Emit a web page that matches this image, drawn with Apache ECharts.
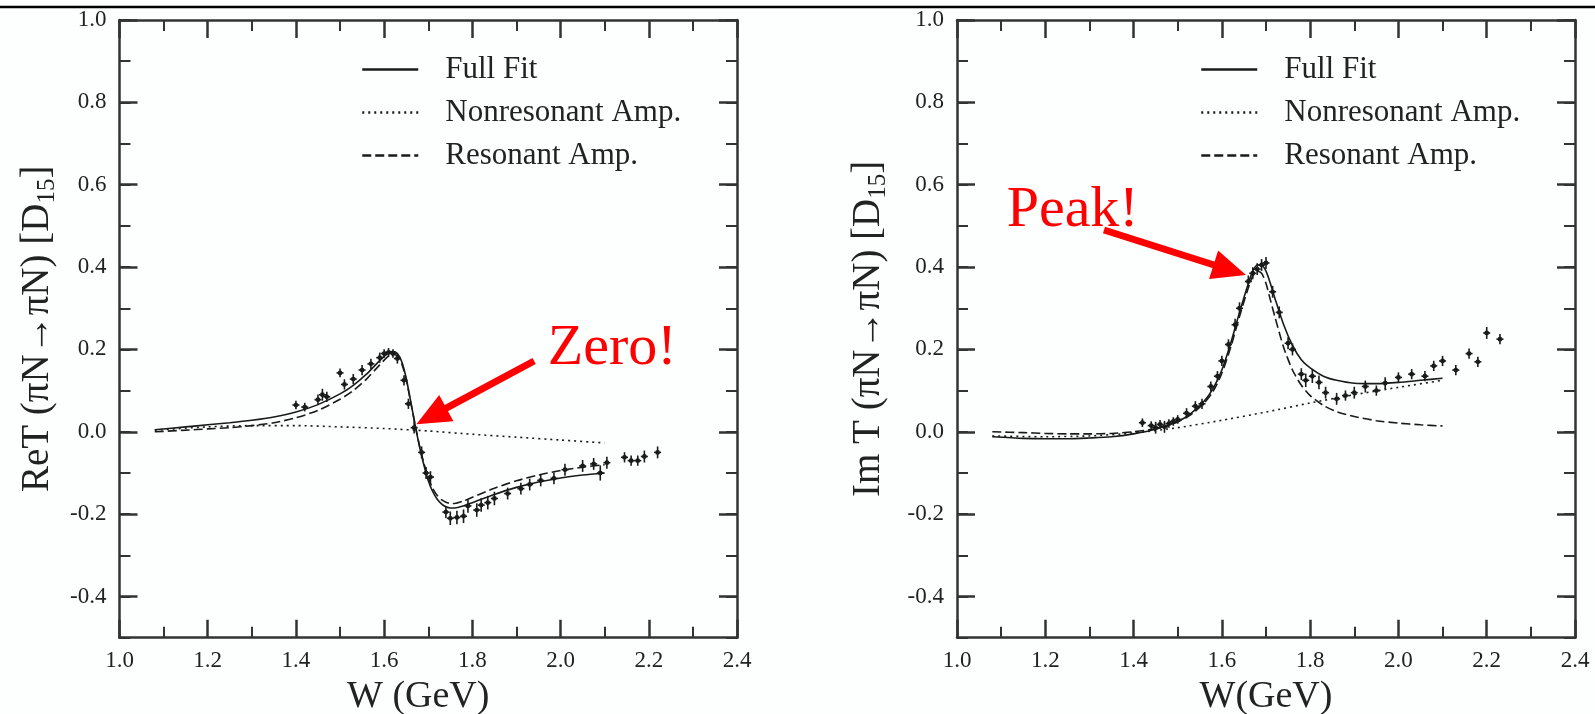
<!DOCTYPE html>
<html>
<head>
<meta charset="utf-8">
<script src="https://cdn.jsdelivr.net/npm/echarts@6/dist/echarts.min.js"></script>
<style>
  html, body { margin: 0; padding: 0; background: #fdfefe; }
  #chart { width: 1595px; height: 714px; }
</style>
</head>
<body>
<div id="chart"></div>
<script>
// ---- Axis ticks ----
const xTickMin = 1.0, xTickMax = 2.4, xTickStep = 0.2;
const yMin = -0.5, yMax = 1.0;
const yMajorTicks = [-0.4, -0.2, 0.0, 0.2, 0.4, 0.6, 0.8, 1.0];

// ---- Real part: model curves ----
const reFitW = [1.08, 1.15, 1.2, 1.25, 1.3, 1.35, 1.4, 1.45, 1.5, 1.53, 1.56, 1.58, 1.60, 1.61, 1.62, 1.63, 1.64, 1.65, 1.66, 1.67, 1.68, 1.69, 1.70, 1.71, 1.72, 1.73, 1.74, 1.75, 1.76, 1.78, 1.80, 1.85, 1.90, 1.95, 2.0, 2.05, 2.1];
const reFull = [0.005, 0.012, 0.017, 0.022, 0.028, 0.036, 0.048, 0.066, 0.092, 0.113, 0.140, 0.162, 0.183, 0.192, 0.195, 0.190, 0.170, 0.130, 0.075, 0.018, -0.035, -0.080, -0.118, -0.145, -0.163, -0.175, -0.182, -0.185, -0.185, -0.180, -0.172, -0.152, -0.135, -0.122, -0.112, -0.105, -0.100];
const reRes = [0.000, 0.004, 0.007, 0.010, 0.015, 0.022, 0.034, 0.052, 0.079, 0.100, 0.128, 0.151, 0.174, 0.184, 0.188, 0.184, 0.165, 0.127, 0.073, 0.018, -0.033, -0.076, -0.111, -0.137, -0.154, -0.165, -0.171, -0.174, -0.174, -0.168, -0.159, -0.137, -0.119, -0.105, -0.094, -0.086, -0.080];
const reBgW = [1.08, 1.2, 1.3, 1.4, 1.5, 1.6, 1.7, 1.8, 1.9, 2.0, 2.1];
const reNonres = [0.004, 0.012, 0.015, 0.015, 0.012, 0.008, 0.002, -0.006, -0.013, -0.020, -0.027];

// ---- Real part: measured points (W, value, error) ----
const reDataW = [1.40, 1.42, 1.45, 1.46, 1.47, 1.50, 1.51, 1.53, 1.55, 1.57, 1.59, 1.60, 1.61, 1.62, 1.63, 1.645, 1.655, 1.668, 1.685, 1.695, 1.705, 1.74, 1.75, 1.765, 1.78, 1.79, 1.81, 1.82, 1.835, 1.85, 1.88, 1.91, 1.93, 1.955, 1.985, 2.01, 2.05, 2.075, 2.09, 2.105, 2.145, 2.16, 2.175, 2.19, 2.22];
const reDataV = [0.065, 0.060, 0.078, 0.090, 0.085, 0.143, 0.115, 0.128, 0.150, 0.165, 0.180, 0.190, 0.193, 0.190, 0.178, 0.125, 0.068, 0.010, -0.050, -0.100, -0.110, -0.195, -0.210, -0.208, -0.205, -0.180, -0.190, -0.178, -0.172, -0.162, -0.150, -0.138, -0.128, -0.118, -0.113, -0.092, -0.083, -0.078, -0.100, -0.075, -0.062, -0.070, -0.070, -0.060, -0.050];
const reDataE = [0.008, 0.008, 0.010, 0.012, 0.010, 0.008, 0.010, 0.010, 0.010, 0.010, 0.010, 0.008, 0.008, 0.008, 0.010, 0.010, 0.010, 0.012, 0.012, 0.012, 0.012, 0.012, 0.014, 0.014, 0.014, 0.014, 0.014, 0.014, 0.014, 0.014, 0.012, 0.012, 0.012, 0.012, 0.012, 0.012, 0.012, 0.012, 0.016, 0.012, 0.010, 0.010, 0.010, 0.012, 0.012];

// ---- Imaginary part: model curves ----
const imFitW = [1.08, 1.15, 1.2, 1.25, 1.3, 1.35, 1.4, 1.45, 1.5, 1.53, 1.56, 1.58, 1.6, 1.62, 1.64, 1.66, 1.67, 1.68, 1.69, 1.70, 1.71, 1.72, 1.74, 1.76, 1.78, 1.80, 1.83, 1.86, 1.9, 1.95, 2.0, 2.05, 2.1];
const imFull = [-0.012, -0.016, -0.017, -0.017, -0.015, -0.012, -0.005, 0.006, 0.025, 0.045, 0.075, 0.105, 0.150, 0.215, 0.290, 0.360, 0.390, 0.405, 0.405, 0.390, 0.360, 0.325, 0.260, 0.210, 0.175, 0.155, 0.135, 0.125, 0.118, 0.117, 0.120, 0.125, 0.130];
const imRes = [0.000, -0.002, -0.004, -0.005, -0.005, -0.004, 0.000, 0.008, 0.024, 0.042, 0.070, 0.098, 0.142, 0.205, 0.280, 0.350, 0.378, 0.390, 0.385, 0.360, 0.320, 0.280, 0.205, 0.150, 0.113, 0.088, 0.064, 0.049, 0.037, 0.027, 0.021, 0.017, 0.014];
const imBgW = [1.08, 1.2, 1.3, 1.4, 1.5, 1.6, 1.7, 1.8, 1.9, 2.0, 2.1];
const imNonres = [-0.010, -0.012, -0.010, -0.003, 0.010, 0.028, 0.048, 0.070, 0.090, 0.108, 0.125];

// ---- Imaginary part: measured points (W, value, error) ----
const imDataW = [1.42, 1.44, 1.45, 1.46, 1.47, 1.48, 1.49, 1.50, 1.52, 1.54, 1.555, 1.575, 1.59, 1.60, 1.615, 1.63, 1.64, 1.66, 1.67, 1.68, 1.69, 1.70, 1.715, 1.73, 1.75, 1.76, 1.78, 1.79, 1.805, 1.82, 1.835, 1.86, 1.88, 1.90, 1.925, 1.95, 1.97, 2.00, 2.03, 2.06, 2.08, 2.10, 2.13, 2.16, 2.18, 2.20, 2.23];
const imDataV = [0.022, 0.015, 0.010, 0.018, 0.012, 0.020, 0.025, 0.030, 0.045, 0.062, 0.068, 0.110, 0.135, 0.172, 0.212, 0.260, 0.300, 0.365, 0.385, 0.395, 0.405, 0.410, 0.340, 0.290, 0.215, 0.200, 0.140, 0.125, 0.135, 0.120, 0.095, 0.080, 0.088, 0.095, 0.110, 0.100, 0.118, 0.132, 0.140, 0.135, 0.160, 0.172, 0.150, 0.190, 0.170, 0.240, 0.225];
const imDataE = [0.008, 0.008, 0.012, 0.008, 0.012, 0.008, 0.008, 0.008, 0.010, 0.010, 0.010, 0.010, 0.010, 0.010, 0.010, 0.012, 0.012, 0.012, 0.012, 0.012, 0.012, 0.012, 0.012, 0.012, 0.012, 0.012, 0.012, 0.014, 0.014, 0.014, 0.012, 0.012, 0.010, 0.012, 0.012, 0.010, 0.012, 0.010, 0.010, 0.010, 0.010, 0.010, 0.010, 0.010, 0.010, 0.012, 0.010];

// ---- Legend entries ----
const legendNames = ['Full Fit', 'Nonresonant Amp.', 'Resonant Amp.'];

// ---- Helpers ----
const zip = (xs, ys) => xs.map((x, i) => [x, ys[i]]);
const zip3 = (xs, ys, es) => xs.map((x, i) => [x, ys[i], es[i]]);
const SERIF = '"Liberation Serif", "DejaVu Serif", serif';
const INK = '#1a1a1a';
const AXIS = '#333';

function renderPoint(params, api) {
  const x = api.value(0), y = api.value(1), e = api.value(2);
  const c = api.coord([x, y]);
  const hi = api.coord([x, y + e]);
  const lo = api.coord([x, y - e]);
  return {
    type: 'group',
    children: [
      { type: 'line', shape: { x1: c[0], y1: hi[1] - 1, x2: c[0], y2: lo[1] + 1 }, style: { stroke: INK, lineWidth: 1.6 } },
      { type: 'line', shape: { x1: c[0] - 3.5, y1: c[1], x2: c[0] + 3.5, y2: c[1] }, style: { stroke: INK, lineWidth: 1.6 } },
      { type: 'circle', shape: { cx: c[0], cy: c[1], r: 2.4 }, style: { fill: INK } }
    ]
  };
}

function xAxisPair(gridIndex, name, nameStyleExtra) {
  const common = {
    type: 'value', gridIndex, min: xTickMin, max: xTickMax, interval: xTickStep,
    axisLine: { show: true, onZero: false, lineStyle: { color: AXIS, width: 2.5 } },
    axisTick: { show: true, inside: true, length: 18, lineStyle: { color: AXIS, width: 2.5 } },
    minorTick: { show: true, splitNumber: 2, length: 11, lineStyle: { color: AXIS, width: 2 } },
    splitLine: { show: false }
  };
  return [
    Object.assign({}, common, {
      position: 'bottom',
      axisLabel: { show: true, margin: 12, fontFamily: SERIF, fontSize: 23, color: '#222', formatter: v => v.toFixed(1) },
      name, nameLocation: 'middle', nameGap: 36,
      nameTextStyle: Object.assign({ fontFamily: SERIF, fontSize: 38, color: '#222' }, nameStyleExtra || {})
    }),
    Object.assign({}, common, { position: 'top', axisLabel: { show: false } })
  ];
}

function yAxisSet(gridIndex, nameMain, nameGap) {
  const base = { type: 'value', gridIndex, min: yMin, max: yMax, splitLine: { show: false } };
  const major = (position, labels) => Object.assign({}, base, {
    position,
    axisLine: { show: false },
    axisTick: { show: true, inside: true, length: 18, customValues: yMajorTicks, lineStyle: { color: AXIS, width: 2.5 } },
    axisLabel: labels
      ? { show: true, customValues: yMajorTicks, margin: 13, fontFamily: SERIF, fontSize: 23, color: '#222', formatter: v => v.toFixed(1) }
      : { show: false }
  });
  const minor = (position) => Object.assign({}, base, {
    position, interval: 0.1,
    axisLine: { show: true, onZero: false, lineStyle: { color: AXIS, width: 2.5 } },
    axisTick: { show: true, inside: true, length: 11, lineStyle: { color: AXIS, width: 2 } },
    axisLabel: { show: false }
  });
  const left = major('left', true);
  left.name = '{a|' + nameMain + ' [D}{s|15}{a|]}';
  left.nameLocation = 'middle';
  left.nameGap = nameGap;
  left.nameTextStyle = {
    rich: {
      a: { fontFamily: SERIF, fontSize: 39, color: '#222', lineHeight: 44, verticalAlign: 'middle' },
      s: { fontFamily: SERIF, fontSize: 25, color: '#222', lineHeight: 44, verticalAlign: 'bottom' }
    }
  };
  return [left, minor('left'), major('right', false), minor('right')];
}

function curveSeries(name, xs, ys, xi, yi, lineType) {
  return {
    name, type: 'line', xAxisIndex: xi, yAxisIndex: yi,
    data: zip(xs, ys), smooth: 0.25, showSymbol: false, symbol: 'none',
    lineStyle: { color: INK, width: 1.6, type: lineType },
    itemStyle: { color: INK },
    emphasis: { disabled: true }, silent: true, z: 3
  };
}

function arrowAndText(from, to, text, textAt) {
  return {
    type: 'line', xAxisIndex: 0, yAxisIndex: 0, data: [], silent: true,
    markLine: {
      silent: true, animation: false,
      symbol: ['none', 'triangle'], symbolSize: [30, 34],
      lineStyle: { color: '#ff0000', width: 7, type: 'solid' },
      itemStyle: { color: '#ff0000' },
      label: { show: false },
      emphasis: { disabled: true },
      data: [[{ coord: from }, { coord: to }]]
    },
    markPoint: {
      silent: true, animation: false, symbol: 'circle', symbolSize: 0,
      label: { show: true, position: 'inside', formatter: text, fontFamily: SERIF, fontSize: 58, color: '#ff0000' },
      data: [{ coord: textAt }]
    }
  };
}

const zeroMark = arrowAndText([1.94, 0.172], [1.707, 0.038], 'Zero!', [2.117, 0.201]);
const peakMark = arrowAndText([1.333, 0.49], [1.618, 0.393], 'Peak!', [1.262, 0.537]);
peakMark.xAxisIndex = 2; peakMark.yAxisIndex = 4;

function legendFor(left) {
  return {
    left, top: 54, orient: 'vertical', padding: 0,
    itemWidth: 56, itemHeight: 14, itemGap: 12,
    data: legendNames, selectedMode: false,
    itemStyle: { opacity: 0 },
    lineStyle: { width: 2.5 },
    textStyle: { fontFamily: SERIF, fontSize: 31, color: '#222', lineHeight: 28, padding: [0, 0, 0, 22] }
  };
}

const chart = echarts.init(document.getElementById('chart'), null, { renderer: 'canvas' });
chart.setOption({
  animation: false,
  backgroundColor: '#fdfefe',
  grid: [
    { left: 119.5, top: 20, width: 617.5, height: 617.7, containLabel: false, outerBoundsMode: 'none' },
    { left: 957, top: 20, width: 618, height: 617.7, containLabel: false, outerBoundsMode: 'none' }
  ],
  legend: [legendFor(361), legendFor(1200)],
  xAxis: [
    ...xAxisPair(0, 'W (GeV)', { padding: [0, 20, 0, 0] }),
    ...xAxisPair(1, 'W(GeV)')
  ],
  yAxis: [
    ...yAxisSet(0, 'ReT (πN→πN)', 60),
    ...yAxisSet(1, 'Im T (πN→πN)', 66)
  ],
  graphic: [
    { type: 'line', shape: { x1: 0, y1: 7, x2: 1595, y2: 7 }, style: { stroke: '#000', lineWidth: 2.5 }, silent: true }
  ],
  series: [
    curveSeries('Full Fit', reFitW, reFull, 0, 0, 'solid'),
    curveSeries('Nonresonant Amp.', reBgW, reNonres, 0, 0, [2, 4]),
    curveSeries('Resonant Amp.', reFitW, reRes, 0, 0, [9, 4]),
    {
      type: 'custom', xAxisIndex: 0, yAxisIndex: 0, renderItem: renderPoint,
      data: zip3(reDataW, reDataV, reDataE), encode: { x: 0, y: 1 }, silent: true, z: 4
    },
    curveSeries('Full Fit', imFitW, imFull, 2, 4, 'solid'),
    curveSeries('Nonresonant Amp.', imBgW, imNonres, 2, 4, [2, 4]),
    curveSeries('Resonant Amp.', imFitW, imRes, 2, 4, [9, 4]),
    {
      type: 'custom', xAxisIndex: 2, yAxisIndex: 4, renderItem: renderPoint,
      data: zip3(imDataW, imDataV, imDataE), encode: { x: 0, y: 1 }, silent: true, z: 4
    },
    zeroMark,
    peakMark
  ]
});
</script>
</body>
</html>
